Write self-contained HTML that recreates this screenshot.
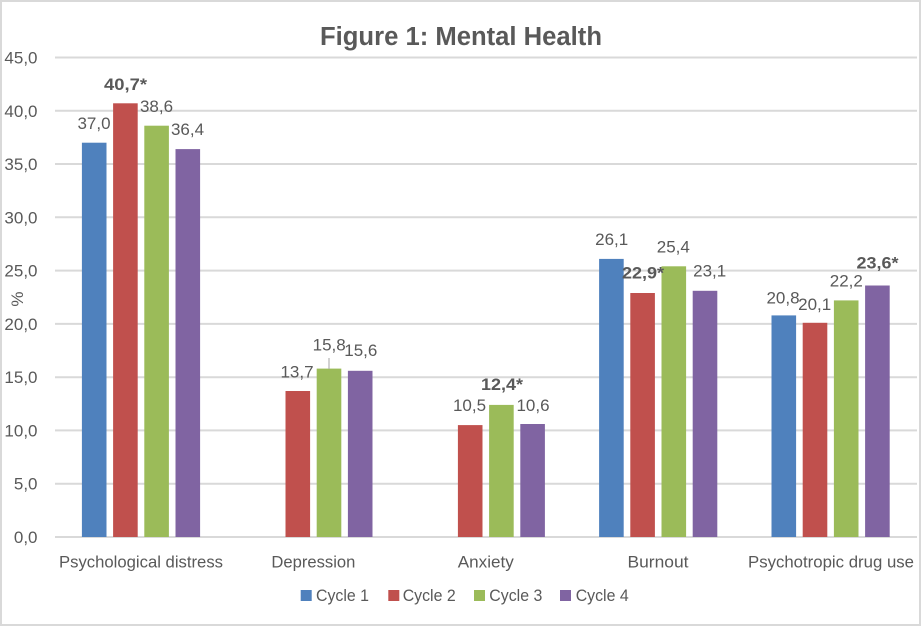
<!DOCTYPE html>
<html><head><meta charset="utf-8"><style>
html,body{margin:0;padding:0;background:#fff;}
svg{display:block;}
text{font-family:"Liberation Sans",Arial,sans-serif;fill:#595959;}
</style></head><body>
<svg width="922" height="627" viewBox="0 0 922 627" xmlns="http://www.w3.org/2000/svg">
<rect x="0" y="0" width="922" height="627" fill="#fff"/>
<rect x="1" y="1" width="919" height="624" fill="none" stroke="#d9d9d9" stroke-width="2"/>
<text x="461" y="45" font-size="25.5" font-weight="bold" text-anchor="middle" textLength="282" lengthAdjust="spacingAndGlyphs">Figure 1: Mental Health</text>
<g stroke="#d9d9d9" stroke-width="2">
<line x1="55" y1="57.5" x2="917" y2="57.5"/>
<line x1="55" y1="110.8" x2="917" y2="110.8"/>
<line x1="55" y1="164" x2="917" y2="164"/>
<line x1="55" y1="217.3" x2="917" y2="217.3"/>
<line x1="55" y1="270.6" x2="917" y2="270.6"/>
<line x1="55" y1="323.9" x2="917" y2="323.9"/>
<line x1="55" y1="377.2" x2="917" y2="377.2"/>
<line x1="55" y1="430.4" x2="917" y2="430.4"/>
<line x1="55" y1="483.7" x2="917" y2="483.7"/>
<line x1="55" y1="537" x2="917" y2="537"/>
</g>
<g font-size="17" text-anchor="end">
<text x="37.5" y="63.5">45,0</text>
<text x="37.5" y="116.8">40,0</text>
<text x="37.5" y="170">35,0</text>
<text x="37.5" y="223.3">30,0</text>
<text x="37.5" y="276.6">25,0</text>
<text x="37.5" y="329.9">20,0</text>
<text x="37.5" y="383.2">15,0</text>
<text x="37.5" y="436.4">10,0</text>
<text x="37.5" y="489.7">5,0</text>
<text x="37.5" y="543">0,0</text>
</g>
<text x="0" y="0" font-size="17" text-anchor="middle" transform="translate(23,299) rotate(-90)">%</text>
<!-- bars -->
<g>
<rect x="81.9" y="142.7" width="24.6" height="394.3" fill="#4f81bd"/>
<rect x="113.1" y="103.3" width="24.6" height="433.7" fill="#c0504d"/>
<rect x="144.3" y="125.7" width="24.6" height="411.3" fill="#9bbb59"/>
<rect x="175.5" y="149.1" width="24.6" height="387.9" fill="#8064a2"/>

<rect x="285.5" y="391" width="24.6" height="146" fill="#c0504d"/>
<rect x="316.7" y="368.6" width="24.6" height="168.4" fill="#9bbb59"/>
<rect x="347.9" y="370.8" width="24.6" height="166.2" fill="#8064a2"/>

<rect x="457.9" y="425.1" width="24.6" height="111.9" fill="#c0504d"/>
<rect x="489.1" y="404.9" width="24.6" height="132.1" fill="#9bbb59"/>
<rect x="520.3" y="424" width="24.6" height="113" fill="#8064a2"/>

<rect x="599.1" y="258.9" width="24.6" height="278.1" fill="#4f81bd"/>
<rect x="630.3" y="293" width="24.6" height="244" fill="#c0504d"/>
<rect x="661.5" y="266.3" width="24.6" height="270.7" fill="#9bbb59"/>
<rect x="692.7" y="290.8" width="24.6" height="246.2" fill="#8064a2"/>

<rect x="771.5" y="315.4" width="24.6" height="221.6" fill="#4f81bd"/>
<rect x="802.7" y="322.8" width="24.6" height="214.2" fill="#c0504d"/>
<rect x="833.9" y="300.4" width="24.6" height="236.6" fill="#9bbb59"/>
<rect x="865.1" y="285.5" width="24.6" height="251.5" fill="#8064a2"/>
</g>
<line x1="329" y1="358" x2="329" y2="369" stroke="#a6a6a6" stroke-width="1"/>
<!-- data labels -->
<g font-size="17" text-anchor="middle">
<text x="94" y="129">37,0</text>
<text x="125.5" y="90" font-weight="bold" textLength="43" lengthAdjust="spacingAndGlyphs">40,7*</text>
<text x="156.5" y="112">38,6</text>
<text x="187.5" y="135">36,4</text>
<text x="297" y="377.7">13,7</text>
<text x="329.2" y="350.7">15,8</text>
<text x="360.8" y="356">15,6</text>
<text x="469.5" y="411">10,5</text>
<text x="502" y="390" font-weight="bold" textLength="42" lengthAdjust="spacingAndGlyphs">12,4*</text>
<text x="533" y="411">10,6</text>
<text x="611.7" y="245">26,1</text>
<text x="643" y="278.3" font-weight="bold" textLength="42" lengthAdjust="spacingAndGlyphs">22,9*</text>
<text x="673.3" y="252.7">25,4</text>
<text x="709.7" y="276.7">23,1</text>
<text x="783" y="303.3">20,8</text>
<text x="814.7" y="310">20,1</text>
<text x="846.3" y="286.7">22,2</text>
<text x="877.5" y="268.3" font-weight="bold" textLength="42" lengthAdjust="spacingAndGlyphs">23,6*</text>
</g>
<!-- category labels -->
<g font-size="17" text-anchor="middle">
<text x="141" y="567.5" textLength="164" lengthAdjust="spacingAndGlyphs">Psychological distress</text>
<text x="313.4" y="567.5" textLength="84" lengthAdjust="spacingAndGlyphs">Depression</text>
<text x="485.8" y="567.5" textLength="56" lengthAdjust="spacingAndGlyphs">Anxiety</text>
<text x="658" y="567.5" textLength="61" lengthAdjust="spacingAndGlyphs">Burnout</text>
<text x="831" y="567.5" textLength="166" lengthAdjust="spacingAndGlyphs">Psychotropic drug use</text>
</g>
<!-- legend -->
<rect x="300.7" y="590" width="11" height="11" fill="#4f81bd"/>
<rect x="388.3" y="590" width="11" height="11" fill="#c0504d"/>
<rect x="474" y="590" width="11" height="11" fill="#9bbb59"/>
<rect x="560" y="590" width="11" height="11" fill="#8064a2"/>
<g font-size="17">
<text x="316" y="601" textLength="53" lengthAdjust="spacingAndGlyphs">Cycle 1</text>
<text x="402.7" y="601" textLength="53" lengthAdjust="spacingAndGlyphs">Cycle 2</text>
<text x="489.3" y="601" textLength="53" lengthAdjust="spacingAndGlyphs">Cycle 3</text>
<text x="575.7" y="601" textLength="53" lengthAdjust="spacingAndGlyphs">Cycle 4</text>
</g>
</svg>
</body></html>
